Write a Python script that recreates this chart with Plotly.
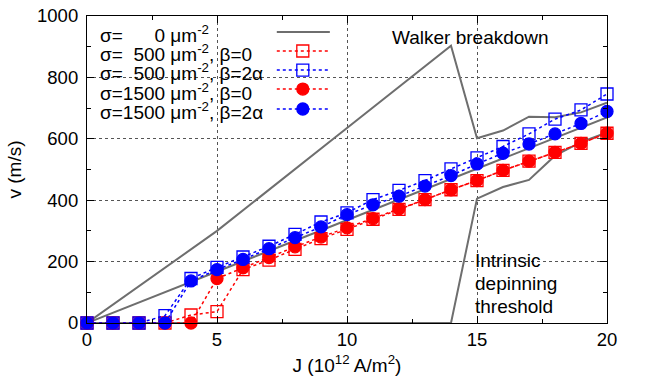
import plotly.graph_objects as go

# ---- data ----
J = list(range(0, 21))
v_500_b0 = [0, 0, 0, 0, 26, 37, 174, 205, 240, 275, 305, 338, 370, 402, 434, 464, 497, 527, 556, 585, 618]
v_500_b2a = [0, 0, 0, 24, 145, 181, 215, 250, 289, 329, 359, 402, 432, 464, 502, 538, 575, 616, 664, 694, 746]
v_1500_b0 = [0, 0, 0, 0, 0, 145, 180, 213, 248, 280, 310, 340, 372, 402, 434, 464, 497, 527, 556, 585, 618]
v_1500_b2a = [0, 0, 0, 0, 137, 174, 207, 242, 278, 313, 353, 385, 413, 446, 480, 518, 553, 583, 616, 650, 689]

# sigma = 0 theory curves
J_walker = [0, 5, 10, 14, 15, 16, 17, 18, 19, 20]
v_walker = [0, 300, 635, 903, 602, 627, 672, 670, 686, 718]
J_alpha = [0, 20]
v_alpha = [0, 670]
J_intr = [0, 14, 15, 16, 17, 18, 19, 20]
v_intr = [0, 0, 405, 443, 466, 545, 589, 621]

x_ticks = [0, 5, 10, 15, 20]
y_ticks = [0, 200, 400, 600, 800, 1000]

legend_labels = [
    "σ=\u00a0\u00a0\u00a0\u00a0\u00a0\u00a00 μm<sup>-2</sup>",
    "σ=\u00a0\u00a0500 μm<sup>-2</sup>, β=0",
    "σ=\u00a0\u00a0500 μm<sup>-2</sup>, β=2α",
    "σ=1500 μm<sup>-2</sup>, β=0",
    "σ=1500 μm<sup>-2</sup>, β=2α",
]

GRAY = "#6e6e6e"
RED = "#ff0000"
BLUE = "#0000ff"
FONT = "Liberation Sans, Arial, sans-serif"
FS = 19

fig = go.Figure()

for xs, ys in [(J_walker, v_walker), (J_alpha, v_alpha), (J_intr, v_intr)]:
    fig.add_trace(go.Scatter(x=xs, y=ys, mode="lines",
                             line=dict(color=GRAY, width=2), cliponaxis=False,
                             showlegend=False))

series = [
    (v_500_b0, RED, "square-open"),
    (v_500_b2a, BLUE, "square-open"),
    (v_1500_b0, RED, "circle"),
    (v_1500_b2a, BLUE, "circle"),
]
for ys, col, sym in series:
    fig.add_trace(go.Scatter(
        x=J, y=ys, mode="lines+markers",
        line=dict(color=col, width=1.5, dash="dot"),
        marker=dict(symbol=sym, size=12, color=col,
                    line=dict(color=col, width=1.3)),
        cliponaxis=False, showlegend=False))

# ---- manual legend (gnuplot style: text left, sample right) ----
row_y = [0.948, 0.886, 0.824, 0.762, 0.697]
sx0, sx1, sxm = 0.365, 0.467, 0.415
styles = [(GRAY, None, "solid", 2)] + [(c, s, "dot", 1.5) for _, c, s in series]
for yy, (col, sym, dash, w) in zip(row_y, styles):
    fig.add_trace(go.Scatter(x=[sx0, sx1], y=[yy, yy], mode="lines",
                             line=dict(color=col, width=w, dash=dash),
                             xaxis="x2", yaxis="y2", showlegend=False))
    if sym:
        fig.add_trace(go.Scatter(x=[sxm], y=[yy], mode="markers",
                                 marker=dict(symbol=sym, size=12, color=col,
                                             line=dict(color=col, width=1.3)),
                                 xaxis="x2", yaxis="y2", showlegend=False))

annotations = []
for yy, txt in zip(row_y, legend_labels):
    annotations.append(dict(x=0.022, y=yy - 0.008, xref="x2", yref="y2", text=txt,
                            showarrow=False, xanchor="left", yanchor="middle",
                            font=dict(size=FS, color="black", family=FONT)))

extra = [
    dict(x=11.65, y=929, text="Walker breakdown"),
    dict(x=14.85, y=205, text="Intrinsic"),
    dict(x=14.85, y=130, text="depinning"),
    dict(x=14.85, y=53, text="threshold"),
    dict(x=20.3, y=740, text="β=2α"),
    dict(x=20.3, y=669, text="β=α"),
    dict(x=20.3, y=601, text="β=0"),
]
for a in extra:
    a.update(showarrow=False, xref="x", yref="y", xanchor="left", yanchor="middle",
             font=dict(size=FS, color="black", family=FONT))
annotations += extra

axis_common = dict(
    showline=True, linecolor="black", linewidth=1.2, mirror="ticks",
    ticks="inside", ticklen=7, tickwidth=1, tickcolor="black",
    showgrid=True, gridcolor="#555555", griddash="dot", gridwidth=1,
    zeroline=False, automargin=False,
    tickfont=dict(size=FS - 0.5, color="black", family=FONT),
)

fig.update_layout(
    width=662, height=379,
    margin=dict(l=87, r=55, t=16, b=56),
    plot_bgcolor="white", paper_bgcolor="white",
    font=dict(family=FONT, size=FS, color="black"),
    xaxis=dict(range=[0, 20], tickvals=x_ticks,
               minor=dict(dtick=2.5, ticks="inside", ticklen=4, tickcolor="black", showgrid=False),
               title=dict(text="J (10<sup>12</sup> A/m<sup>2</sup>)", standoff=9,
                          font=dict(size=FS, family=FONT)),
               **axis_common),
    yaxis=dict(range=[0, 1000], tickvals=y_ticks,
               minor=dict(dtick=100, ticks="inside", ticklen=4, tickcolor="black", showgrid=False),
               ticklabelstandoff=4,
               title=dict(text="v (m/s)", standoff=10, font=dict(size=FS, family=FONT)),
               **axis_common),
    xaxis2=dict(overlaying="x", range=[0, 1], visible=False),
    yaxis2=dict(overlaying="y", range=[0, 1], visible=False),
    annotations=annotations,
)

fig.write_html("out.html")
